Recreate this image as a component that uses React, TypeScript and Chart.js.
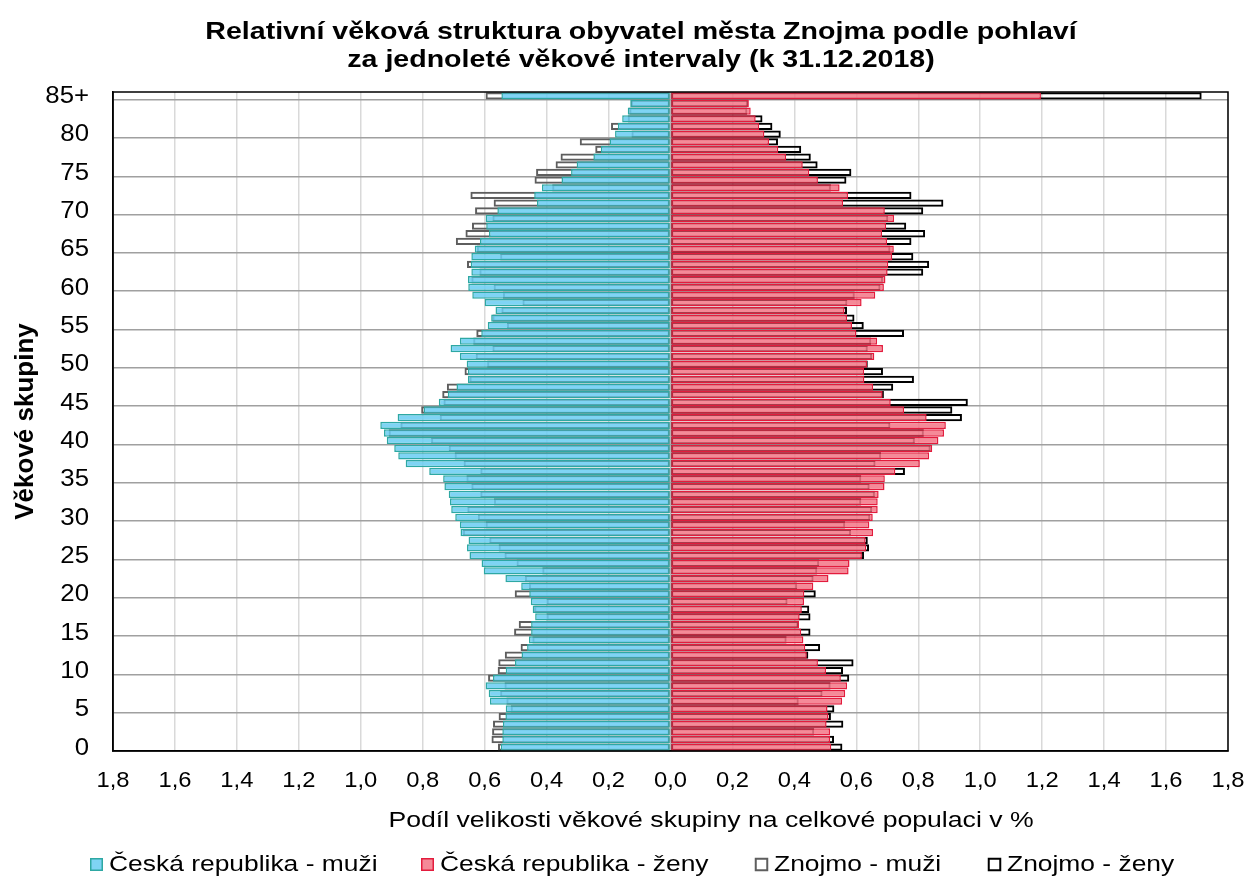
import React, { useEffect, useRef } from 'react';
import { Chart, registerables } from 'chart.js';

Chart.register(...registerables);

// Age categories (bottom to top)
const AGE_LABELS = [
  '0','1','2','3','4','5','6','7','8','9',
  '10','11','12','13','14','15','16','17','18','19',
  '20','21','22','23','24','25','26','27','28','29',
  '30','31','32','33','34','35','36','37','38','39',
  '40','41','42','43','44','45','46','47','48','49',
  '50','51','52','53','54','55','56','57','58','59',
  '60','61','62','63','64','65','66','67','68','69',
  '70','71','72','73','74','75','76','77','78','79',
  '80','81','82','83','84','85+'
];

// Česká republika - muži (% of population, magnitude)
const CR_MUZI = [
  0.548,0.543,0.543,0.541,0.533,0.532,0.583,0.587,0.597,0.573,
  0.532,0.502,0.481,0.463,0.457,0.450,0.450,0.437,0.445,0.451,
  0.456,0.482,0.533,0.603,0.610,0.649,0.657,0.652,0.678,0.680,
  0.695,0.708,0.712,0.716,0.730,0.734,0.779,0.855,0.879,0.892,
  0.916,0.925,0.937,0.881,0.797,0.748,0.719,0.691,0.654,0.654,
  0.658,0.680,0.710,0.680,0.611,0.590,0.579,0.565,0.600,0.640,
  0.653,0.654,0.643,0.645,0.643,0.632,0.615,0.586,0.595,0.597,
  0.559,0.431,0.440,0.415,0.352,0.321,0.303,0.249,0.225,0.197,
  0.179,0.170,0.156,0.138,0.130,0.546
];

// Česká republika - ženy
const CR_ZENY = [
  0.519,0.515,0.515,0.504,0.510,0.507,0.554,0.564,0.570,0.550,
  0.502,0.476,0.440,0.435,0.429,0.422,0.415,0.417,0.424,0.431,
  0.432,0.461,0.510,0.575,0.578,0.618,0.632,0.630,0.654,0.642,
  0.653,0.669,0.669,0.672,0.691,0.692,0.726,0.805,0.835,0.845,
  0.865,0.883,0.889,0.827,0.754,0.711,0.685,0.654,0.626,0.625,
  0.635,0.658,0.686,0.667,0.600,0.586,0.570,0.562,0.617,0.661,
  0.689,0.694,0.701,0.703,0.716,0.721,0.699,0.683,0.696,0.722,
  0.692,0.557,0.573,0.546,0.476,0.448,0.427,0.373,0.348,0.318,
  0.303,0.286,0.275,0.259,0.253,1.196
];

// Znojmo - muži (magnitude)
const ZN_MUZI = [
  0.557,0.578,0.576,0.573,0.555,0.516,0.530,0.550,0.536,0.589,
  0.558,0.556,0.535,0.484,0.446,0.505,0.490,0.400,0.440,0.400,
  0.503,0.457,0.470,0.414,0.497,0.536,0.555,0.585,0.670,0.597,
  0.622,0.656,0.570,0.614,0.643,0.659,0.614,0.668,0.697,0.716,
  0.773,0.910,0.872,0.745,0.805,0.733,0.737,0.722,0.649,0.665,
  0.592,0.629,0.575,0.637,0.627,0.528,0.575,0.546,0.478,0.541,
  0.571,0.643,0.617,0.657,0.550,0.625,0.693,0.662,0.641,0.575,
  0.631,0.571,0.646,0.382,0.439,0.434,0.371,0.355,0.243,0.293,
  0.126,0.192,0.138,0.133,0.128,0.597
];

// Znojmo - ženy
const ZN_ZENY = [
  0.555,0.528,0.464,0.558,0.518,0.529,0.414,0.491,0.517,0.577,
  0.557,0.591,0.445,0.483,0.375,0.452,0.413,0.452,0.448,0.378,
  0.469,0.409,0.462,0.474,0.480,0.625,0.641,0.637,0.583,0.564,
  0.645,0.651,0.616,0.660,0.643,0.616,0.757,0.662,0.680,0.840,
  0.789,0.818,0.710,0.941,0.910,0.960,0.689,0.719,0.786,0.686,
  0.637,0.651,0.637,0.648,0.754,0.624,0.594,0.570,0.571,0.595,
  0.678,0.686,0.816,0.835,0.784,0.710,0.778,0.822,0.761,0.703,
  0.816,0.881,0.778,0.518,0.568,0.584,0.475,0.453,0.422,0.347,
  0.356,0.329,0.297,0.248,0.250,1.715
];

const X_TICK_VALUES = [-1.8,-1.6,-1.4,-1.2,-1.0,-0.8,-0.6,-0.4,-0.2,0,0.2,0.4,0.6,0.8,1.0,1.2,1.4,1.6,1.8];
const X_TICK_LABELS = ['1,8','1,6','1,4','1,2','1,0','0,8','0,6','0,4','0,2','0,0','0,2','0,4','0,6','0,8','1,0','1,2','1,4','1,6','1,8'];
const Y_TICK_LABELS = ['0','5','10','15','20','25','30','35','40','45','50','55','60','65','70','75','80','85+'];

const TITLE_LINES = [
  'Relativní věková struktura obyvatel města Znojma podle pohlaví',
  'za jednoleté věkové intervaly (k 31.12.2018)'
];
const X_TITLE = 'Podíl velikosti věkové skupiny na celkové populaci v %';
const Y_TITLE = 'Věkové skupiny';
const SERIES_NAMES = ['Česká republika - muži', 'Česká republika - ženy', 'Znojmo - muži', 'Znojmo - ženy'];

const FONT = '"Liberation Sans", Arial, sans-serif';
const CYAN_FILL = 'rgba(104,204,242,0.85)';
const CYAN_BORDER = '#2ea8a3';
const RED_FILL = 'rgba(243,117,134,0.85)';
const RED_BORDER = '#e31c3d';
const GRAY_BORDER = '#5e5e5e';
const BLACK_BORDER = '#000000';

function drawStretched(
  ctx: CanvasRenderingContext2D,
  text: string,
  x: number,
  y: number,
  font: string,
  sx: number,
  align: CanvasTextAlign,
  baseline: CanvasTextBaseline
) {
  ctx.save();
  ctx.translate(x, y);
  ctx.scale(sx, 1);
  ctx.font = font;
  ctx.textAlign = align;
  ctx.textBaseline = baseline;
  ctx.fillStyle = '#000';
  ctx.fillText(text, 0, 0);
  ctx.restore();
}

const textPlugin = {
  id: 'customText',
  afterDraw(chart: any) {
    const ctx: CanvasRenderingContext2D = chart.ctx;
    const area = chart.chartArea;
    const xs = chart.scales.x;
    const ys = chart.scales.y;

    // plot frame
    ctx.save();
    ctx.strokeStyle = '#000';
    ctx.lineWidth = 1.5;
    ctx.strokeRect(area.left, area.top, area.right - area.left, area.bottom - area.top);
    ctx.restore();

    // title
    drawStretched(ctx, TITLE_LINES[0], 641, 39, `bold 24px ${FONT}`, 1.19, 'center', 'alphabetic');
    drawStretched(ctx, TITLE_LINES[1], 641, 67, `bold 24px ${FONT}`, 1.19, 'center', 'alphabetic');

    // x tick labels
    X_TICK_VALUES.forEach((v, i) => {
      drawStretched(ctx, X_TICK_LABELS[i], xs.getPixelForValue(v), 787, `22px ${FONT}`, 1.08, 'center', 'alphabetic');
    });

    // y tick labels
    Y_TICK_LABELS.forEach((lab) => {
      const idx = AGE_LABELS.indexOf(lab);
      const py = ys.getPixelForValue(idx);
      drawStretched(ctx, lab, 89, py + 1, `23px ${FONT}`, 1.12, 'right', 'middle');
    });

    // x title
    drawStretched(ctx, X_TITLE, 711, 827, `22px ${FONT}`, 1.21, 'center', 'alphabetic');

    // y title
    ctx.save();
    ctx.translate(26, (area.top + area.bottom) / 2);
    ctx.rotate(-Math.PI / 2);
    ctx.font = `bold 26px ${FONT}`;
    ctx.textAlign = 'center';
    ctx.textBaseline = 'middle';
    ctx.fillStyle = '#000';
    ctx.fillText(Y_TITLE, 0, 0);
    ctx.restore();

    // legend
    const markerX = [90, 421, 755, 988];
    const fills = [CYAN_FILL, RED_FILL, '#ffffff', '#ffffff'];
    const borders = [CYAN_BORDER, RED_BORDER, GRAY_BORDER, BLACK_BORDER];
    const widths = [1.5, 1.5, 2, 2];
    SERIES_NAMES.forEach((name, i) => {
      ctx.save();
      ctx.fillStyle = fills[i];
      ctx.fillRect(markerX[i], 858, 13, 13);
      ctx.strokeStyle = borders[i];
      ctx.lineWidth = widths[i];
      ctx.strokeRect(markerX[i] + 0.75, 858.75, 11.5, 11.5);
      ctx.restore();
      drawStretched(ctx, name, markerX[i] + 19, 871, `22px ${FONT}`, 1.2, 'left', 'alphabetic');
    });
  }
};

export default function App() {
  const canvasRef = useRef<HTMLCanvasElement | null>(null);

  useEffect(() => {
    const canvas = canvasRef.current;
    if (!canvas) return;
    const barOpts = {
      grouped: false,
      borderSkipped: false as const,
      categoryPercentage: 1,
      barPercentage: 0.95,
    };
    const chart = new Chart(canvas, {
      type: 'bar',
      data: {
        labels: AGE_LABELS,
        datasets: [
          {
            label: SERIES_NAMES[0],
            data: CR_MUZI.map((v) => -v),
            backgroundColor: CYAN_FILL,
            borderColor: CYAN_BORDER,
            borderWidth: 1.5,
            order: 1,
            ...barOpts,
          },
          {
            label: SERIES_NAMES[1],
            data: CR_ZENY,
            backgroundColor: RED_FILL,
            borderColor: RED_BORDER,
            borderWidth: 1.5,
            order: 1,
            ...barOpts,
          },
          {
            label: SERIES_NAMES[2],
            data: ZN_MUZI.map((v) => -v),
            backgroundColor: 'rgba(255,255,255,0)',
            borderColor: GRAY_BORDER,
            borderWidth: 2,
            order: 2,
            ...barOpts,
          },
          {
            label: SERIES_NAMES[3],
            data: ZN_ZENY,
            backgroundColor: 'rgba(255,255,255,0)',
            borderColor: BLACK_BORDER,
            borderWidth: 2,
            order: 2,
            ...barOpts,
          },
        ],
      },
      options: {
        indexAxis: 'y',
        animation: false,
        responsive: false,
        devicePixelRatio: 1,
        layout: { padding: { top: 92, right: 18, bottom: 0, left: 0 } },
        plugins: {
          legend: { display: false },
          title: { display: false },
          tooltip: { enabled: false },
        },
        scales: {
          x: {
            type: 'linear',
            min: -1.8,
            max: 1.8,
            ticks: { stepSize: 0.2, display: false },
            grid: {
              drawTicks: false,
              color: (ctx: any) => (Math.abs(ctx.tick?.value ?? 1) < 1e-9 ? '#b5b5b5' : '#d9d9d9'),
              lineWidth: 1.5,
            },
            border: { display: true, color: '#000', width: 1.5 },
            afterFit: (scale: any) => {
              scale.height = 125;
            },
          },
          y: {
            type: 'category',
            reverse: true,
            ticks: { display: false, autoSkip: false },
            grid: {
              offset: true,
              drawTicks: false,
              color: (ctx: any) => (ctx.index > 0 && ctx.index % 5 === 0 ? '#a0a0a0' : 'rgba(0,0,0,0)'),
              lineWidth: 1.5,
            },
            border: { display: true, color: '#000', width: 1.5 },
            afterFit: (scale: any) => {
              scale.width = 113;
            },
          },
        },
      },
      plugins: [textPlugin],
    } as any);
    return () => chart.destroy();
  }, []);

  return (
    <div style={{ position: 'absolute', left: 0, top: 0, width: 1246, height: 876, background: '#fff' }}>
      <canvas ref={canvasRef} width={1246} height={876} style={{ display: 'block' }} />
    </div>
  );
}
